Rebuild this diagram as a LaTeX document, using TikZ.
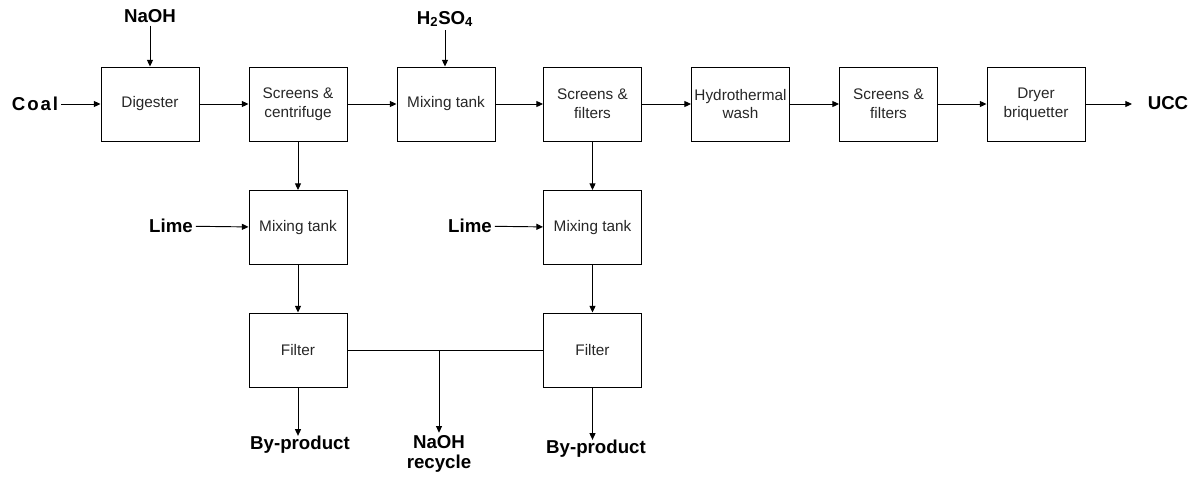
\documentclass[tikz,border=0pt]{standalone}
\usepackage{fontspec}
\setmainfont{Liberation Sans}
\usetikzlibrary{arrows.meta}

\begin{document}
\begin{tikzpicture}[x=0.75pt,y=-0.75pt,line width=0.7pt,
        >={Triangle[length=5pt,width=4.5pt]},
        unit/.style={draw,minimum width=73.5pt,minimum height=55.5pt,inner sep=0pt,
            align=center,text=black!85,font=\fontsize{11.5}{14}\selectfont},
        feed/.style={inner sep=2pt,align=center,font=\bfseries\fontsize{14}{14.5}\selectfont}]
    \useasboundingbox (0,0) rectangle (1199,476);
    % main line
    \node[unit] (dig)  at (150,104)   {Digester};
    \node[unit] (scr)  at (298,104)   {Screens \&\\centrifuge};
    \node[unit] (mixa) at (446,104)   {Mixing tank};
    \node[unit] (fil)  at (592.5,104) {Screens \&\\filters};
    \node[unit] (hyd)  at (740.5,104) {Hydrothermal\\wash};
    \node[unit] (scrb) at (888.5,104) {Screens \&\\filters};
    \node[unit] (dry)  at (1036,104)  {Dryer\\briquetter};
    \foreach \a/\b in {dig/scr,scr/mixa,mixa/fil,fil/hyd,hyd/scrb,scrb/dry}
        \draw[->] (\a) -- (\b);

    \node[feed] (coal) at (35,104) {\addfontfeature{LetterSpace=10}Coal};
    \node[feed] (naoh) at (150,16) {NaOH};
    \node[feed] (acid) at (445,19) {H\textsubscript{2}SO\textsubscript{4}};
    \node[feed] (ucc)  at (1168,103) {UCC};
    \coordinate (uccin) at (1132,104);
    \draw[->] (coal) -- (dig);
    \draw[->] (naoh) -- (naoh |- dig.north);
    \draw[->] (acid) -- (acid |- mixa.north);
    \draw[->] (dry) -- (uccin);

    % lime treatment
    \node[unit] (mixb) at (298,227.5)   {Mixing tank};
    \node[unit] (mixc) at (592.5,227.5) {Mixing tank};
    \node[unit] (filb) at (298,350)     {Filter};
    \node[unit] (filc) at (592.5,350)   {Filter};
    \node[feed] (limea) at (171,226) {Lime};
    \node[feed] (limeb) at (470,226) {Lime};
    \draw[->] (scr) -- (mixb);
    \draw[->] (fil) -- (mixc);
    \draw[->] (mixb) -- (filb);
    \draw[->] (mixc) -- (filc);
    \draw[->] (limea) -- (mixb);
    \draw[->] (limeb) -- (mixc);

    % products
    \node[feed,inner sep=0pt] (bya) at (300,445) {By-product};
    \node[feed,inner sep=0pt] (byb) at (596,449) {By-product};
    \node[feed] (recyc) at (439,454) {NaOH\\recycle};
    \coordinate (split) at (439,350);
    \draw (filb) -- (filc);
    \draw[->] (split) -- (recyc);
    \draw[->] (filb) -- (filb |- bya.north);
    \draw[->] (filc) -- (filc |- byb.north);
\end{tikzpicture}
\end{document}
